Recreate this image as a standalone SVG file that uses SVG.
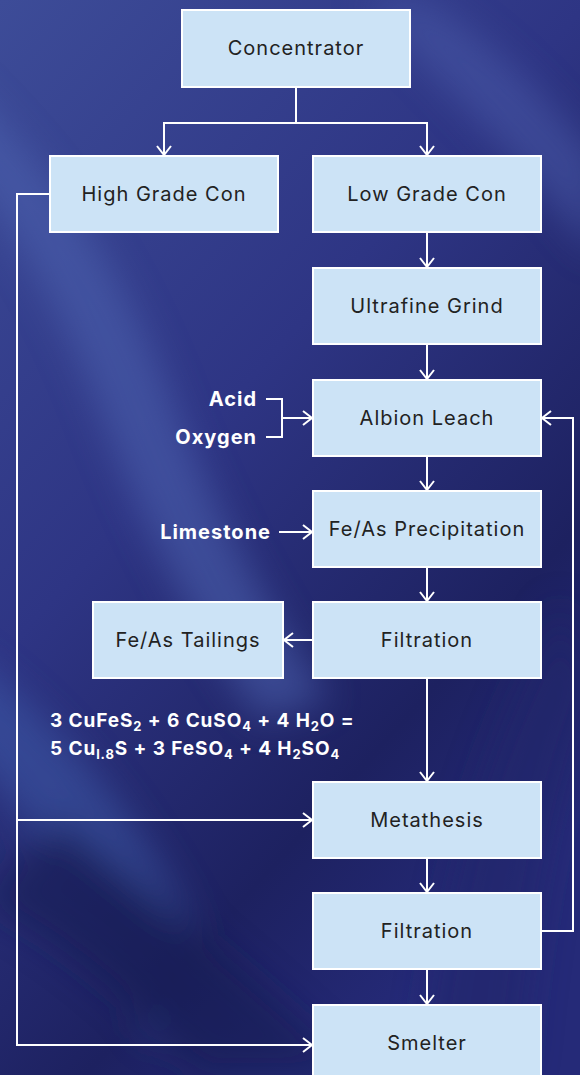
<svg xmlns="http://www.w3.org/2000/svg" width="580" height="1075" viewBox="0 0 580 1075">
<defs>
<linearGradient id="bg" x1="0" y1="0" x2="0.6" y2="1">
<stop offset="0" stop-color="#3d4c98"/>
<stop offset="0.45" stop-color="#2e3584"/>
<stop offset="0.8" stop-color="#1d2160"/>
<stop offset="1" stop-color="#252a78"/>
</linearGradient>
<filter id="blur" x="-50%" y="-50%" width="200%" height="200%"><feGaussianBlur stdDeviation="18"/></filter>
<marker id="arr" viewBox="0 0 12 16" markerWidth="12" markerHeight="16" refX="11" refY="8" orient="auto" markerUnits="userSpaceOnUse">
<path d="M2,1 L11,8 L2,15" fill="none" stroke="#fff" stroke-width="2"/>
</marker>
<style>
.box{fill:#cce3f6;stroke:#fff;stroke-width:2}
.lbl{font-family:"Inter","Liberation Sans",sans-serif;font-size:20px;letter-spacing:1px;fill:#222;text-anchor:middle}
.side{font-family:"Inter","Liberation Sans",sans-serif;font-size:20px;letter-spacing:1px;font-weight:bold;fill:#fff}
.eq{font-family:"Inter","Liberation Sans",sans-serif;font-size:19px;letter-spacing:0.9px;font-weight:bold;fill:#fff}
.c{fill:none;stroke:#fff;stroke-width:2}
</style>
</defs>
<rect width="580" height="1075" fill="url(#bg)"/>
<g filter="url(#blur)" opacity="0.55">
<path d="M-40,80 C60,180 120,260 180,420 C220,520 260,600 330,700 L260,720 C190,620 150,540 110,440 C60,300 0,200 -80,120 Z" fill="#4e63b0"/>
<path d="M-40,650 C60,720 150,820 230,1000 L150,1040 C80,880 0,780 -60,720 Z" fill="#3c5aa8"/>
<path d="M360,0 C440,80 520,160 600,260 L600,160 C540,90 480,30 420,0 Z" fill="#4a5aa8"/>
<path d="M560,600 C500,720 450,820 420,1075 L520,1075 C540,860 570,760 600,680 Z" fill="#22286a"/>
<path d="M60,820 C160,900 260,980 360,1075 L200,1075 C130,1000 60,940 -20,900 Z" fill="#181c52"/>
</g>
<g id="connectors">
<path class="c" d="M296,87 V123 H164 V155" marker-end="url(#arr)"/>
<path class="c" d="M296,123 H427 V155" marker-end="url(#arr)"/>
<path class="c" d="M427,232 V267" marker-end="url(#arr)"/>
<path class="c" d="M427,344 V379" marker-end="url(#arr)"/>
<path class="c" d="M427,456 V490" marker-end="url(#arr)"/>
<path class="c" d="M427,567 V601" marker-end="url(#arr)"/>
<path class="c" d="M427,678 V781" marker-end="url(#arr)"/>
<path class="c" d="M427,858 V892" marker-end="url(#arr)"/>
<path class="c" d="M427,969 V1004" marker-end="url(#arr)"/>
<path class="c" d="M313,640 H284" marker-end="url(#arr)"/>
<path class="c" d="M50,194 H17 V1045 H312" marker-end="url(#arr)"/>
<path class="c" d="M17,820 H312" marker-end="url(#arr)"/>
<path class="c" d="M541,931 H573 V418 H542" marker-end="url(#arr)"/>
<path class="c" d="M266,399 H282 V437 H266"/>
<path class="c" d="M282,418 H312" marker-end="url(#arr)"/>
<path class="c" d="M279,532 H312" marker-end="url(#arr)"/>
</g>
<g id="concentrator"><rect class="box" x="182" y="10" width="228" height="77"/><text class="lbl" x="296" y="55">Concentrator</text></g>
<g id="high-grade"><rect class="box" x="50" y="156" width="228" height="76"/><text class="lbl" x="164" y="201">High Grade Con</text></g>
<g id="low-grade"><rect class="box" x="313" y="156" width="228" height="76"/><text class="lbl" x="427" y="201">Low Grade Con</text></g>
<g id="ultrafine"><rect class="box" x="313" y="268" width="228" height="76"/><text class="lbl" x="427" y="313">Ultrafine Grind</text></g>
<g id="albion"><rect class="box" x="313" y="380" width="228" height="76"/><text class="lbl" x="427" y="425">Albion Leach</text></g>
<g id="precip"><rect class="box" x="313" y="491" width="228" height="76"/><text class="lbl" x="427" y="536">Fe/As Precipitation</text></g>
<g id="filtration1"><rect class="box" x="313" y="602" width="228" height="76"/><text class="lbl" x="427" y="647">Filtration</text></g>
<g id="tailings"><rect class="box" x="93" y="602" width="190" height="76"/><text class="lbl" x="188" y="647">Fe/As Tailings</text></g>
<g id="metathesis"><rect class="box" x="313" y="782" width="228" height="76"/><text class="lbl" x="427" y="827">Metathesis</text></g>
<g id="filtration2"><rect class="box" x="313" y="893" width="228" height="76"/><text class="lbl" x="427" y="938">Filtration</text></g>
<g id="smelter"><rect class="box" x="313" y="1005" width="228" height="76"/><text class="lbl" x="427" y="1050">Smelter</text></g>
<g id="inputs">
<text class="side" x="257" y="406" text-anchor="end">Acid</text>
<text class="side" x="257" y="444" text-anchor="end">Oxygen</text>
<text class="side" x="271" y="539" text-anchor="end">Limestone</text>
</g>
<g id="equation">
<text class="eq" x="50" y="727">3 CuFeS<tspan font-size="13" dy="4">2</tspan><tspan dy="-4"> + 6 CuSO</tspan><tspan font-size="13" dy="4">4</tspan><tspan dy="-4"> + 4 H</tspan><tspan font-size="13" dy="4">2</tspan><tspan dy="-4">O =</tspan></text>
<text class="eq" x="50" y="755">5 Cu<tspan font-size="13" dy="4">l.8</tspan><tspan dy="-4">S + 3 FeSO</tspan><tspan font-size="13" dy="4">4</tspan><tspan dy="-4"> + 4 H</tspan><tspan font-size="13" dy="4">2</tspan><tspan dy="-4">SO</tspan><tspan font-size="13" dy="4">4</tspan></text>
</g>
</svg>
